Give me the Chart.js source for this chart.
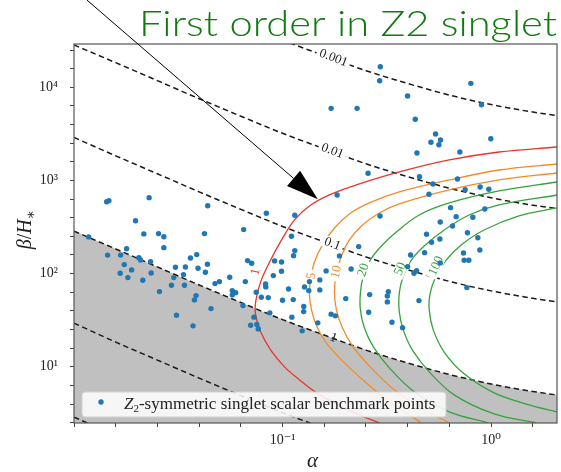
<!DOCTYPE html>
<html>
<head>
<meta charset="utf-8">
<script src="https://cdn.jsdelivr.net/npm/chart.js@4.4.0/dist/chart.umd.min.js"></script>
<style>
  html, body { margin: 0; padding: 0; background: #fff; }
</style>
</head>
<body>
<canvas id="gwChart" width="561" height="472"></canvas>
<script>
// benchmark points (alpha, beta/H*)
const pointAlpha = [
  0.01434, 0.0147, 0.02292, 0.04377, 0.01973, 0.02162, 0.02543, 0.02696, 0.04221, 0.02696,
  0.01176, 0.01787, 0.01449, 0.01673, 0.02046, 0.02085, 0.02328, 0.01741, 0.01889, 0.01665,
  0.01813, 0.02344, 0.02138, 0.03066, 0.03422, 0.03348, 0.03009, 0.03617, 0.03877, 0.03933,
  0.04363, 0.04267, 0.02934, 0.03386, 0.0257, 0.04744, 0.0498, 0.03848, 0.0378, 0.04539,
  0.031, 0.03722,
  0.257, 0.1827, 0.0836, 0.1145, 0.2934, 0.0651, 0.1104, 0.2318, 0.1145, 0.1129,
  0.1874, 0.068, 0.0711, 0.0916, 0.0989, 0.2132, 0.1618, 0.0989, 0.0903, 0.0558,
  0.0663, 0.0829, 0.0831, 0.1346, 0.1274, 0.1509, 0.1068, 0.1509, 0.1336, 0.0574,
  0.0596, 0.0574, 0.0748, 0.0791, 0.0854, 0.1, 0.1125, 0.2009, 0.2617, 0.3215,
  0.318, 0.318, 0.0646, 0.1264, 0.1262, 0.0869, 0.2588, 0.1108, 0.171, 0.1793,
  0.0729, 0.1476, 0.3348, 0.0703, 0.0753, 0.0765, 0.1242, 0.3763,
  0.899, 0.4329, 0.5415, 0.5147, 0.572, 0.5621, 0.9968, 0.441, 0.7083, 0.4537,
  0.69, 0.526, 0.5035, 0.7509, 0.886, 0.975, 0.6389, 0.9331, 0.68, 0.8174,
  0.5702, 0.653, 0.4903, 0.7702, 0.8638, 0.5182, 0.5682, 0.8829, 0.4111, 0.4798,
  0.7371, 0.7427, 0.7821, 0.5702, 0.3977, 0.4391, 0.4267, 0.7651, 0.4508,
  0.2943, 0.2921, 0.171, 0.2277, 0.7996, 0.3977
];
const pointBeta = [
  592, 607, 654, 536, 370, 267, 269, 249, 269, 190,
  248, 185, 158, 158, 148.5, 140, 134.5, 125, 109.6, 101,
  90.6, 101.7, 85, 117, 118, 97.6, 90.6, 147, 160, 114,
  126, 103.5, 75.1, 75.1, 64.1, 78.1, 82.1, 58.1, 52.2, 42.1,
  35.8, 27.5,
  1195, 699, 445, 423, 416, 297, 252, 195, 176.6, 156,
  155, 138, 129, 137, 133.5, 112.3, 107, 106.1, 95.2, 91.5,
  82.1, 77.5, 72, 82.1, 72, 85.6, 68.5, 66.9, 65.7, 65.7,
  62.5, 59.1, 63.1, 55.8, 55.3, 51.8, 52.6, 53.9, 59.5, 64.1,
  57.6, 49.7, 45.4, 44.3, 39.1, 37.9, 38.5, 34.1, 36.7, 35.2,
  34.1, 29.6, 30.1, 27.9, 28.4, 25.5, 24.3, 26.3,
  6508, 4536, 3155, 2570, 2720, 2422, 2809, 1973, 2022, 1098,
  1038, 917, 711, 797, 852, 805, 511, 494, 409, 403,
  358.6, 325, 265, 275, 243, 217, 235.7, 179.6, 158.7, 168,
  166.8, 139.3, 139.3, 130.3, 118.9, 107.7, 101, 70.8, 51.3,
  16634, 11773, 5953, 5953, 11040, 8066
];

// dashed contours (black), read along a shared alpha grid
const contourAlpha = [0.01, 0.01585, 0.02512, 0.03981, 0.0631, 0.1, 0.1585, 0.2512, 0.3981, 0.631, 1.0, 1.585, 2.07];
const contour0001 = [284000, 184000, 118000, 75500, 49000, 32100, 21900, 15100, 11000, 8260, 6530, 5430, 4980];
const contour001 = [28460, 18400, 11800, 7550, 4900, 3210, 2190, 1510, 1100, 826, 653, 543, 498];
const contour01 = [2897, 1840, 1180, 755, 490, 321, 219, 151, 110, 82.6, 65.3, 54.3, 49.8];
const contour1 = [286, 184, 118, 75.5, 49.0, 32.1, 21.9, 15.1, 11.0, 8.26, 6.53, 5.43, 4.98];
const contour10 = [29.4, 18.4, 11.8, 7.55, 4.9, 3.21, 2.19, 1.51, 1.1, 0.826, 0.653, 0.543, 0.498];
const contour100 = [2.88, 1.84, 1.18, 0.755, 0.49, 0.321, 0.219, 0.151, 0.11, 0.0826, 0.0653, 0.0543, 0.0498];

// coloured contours, levels 1, 5, 10, 20, 50, 100
const snr1Alpha = [2.07, 1.092, 0.63, 0.3629, 0.2336, 0.1679, 0.1346, 0.1141, 0.0989, 0.0867, 0.0785, 0.0743, 0.0743, 0.0785, 0.0876, 0.1022, 0.1206, 0.1455, 0.2092, 0.2911];
const snr1Beta = [2288, 2022, 1660, 1234, 917, 699, 532.5, 376.9, 229.9, 133.5, 81.5, 49.7, 36.1, 23.7, 15.2, 9.97, 7.23, 5.25, 3.36, 2.5];
const snr5Alpha = [2.07, 1.092, 0.63, 0.3629, 0.2608, 0.2092, 0.1773, 0.1554, 0.1422, 0.1361, 0.1346, 0.1377, 0.1455, 0.1606, 0.1874, 0.2336, 0.3076, 0.4624];
const snr5Beta = [1503, 1296, 1013, 753, 574, 437, 309.3, 203.2, 133.5, 85.6, 59.1, 40.8, 27.5, 18.5, 12.46, 7.79, 4.64, 2.5];
const snr10Alpha = [2.07, 1.092, 0.63, 0.3629, 0.2911, 0.2388, 0.2092, 0.1916, 0.1813, 0.1773, 0.1813, 0.1937, 0.2162, 0.2608, 0.3434, 0.478, 0.63];
const snr10Beta = [1204, 1013, 791, 559.6, 448, 325, 229.9, 155, 101.7, 63.6, 40.8, 26.2, 16.8, 10.2, 5.65, 3.45, 2.5];
const snr20Alpha = [2.07, 1.092, 0.63, 0.4522, 0.3511, 0.2977, 0.2636, 0.2441, 0.2362, 0.2362, 0.2467, 0.2725, 0.3251, 0.4281, 0.63, 0.967];
const snr20Beta = [963.6, 771.6, 574, 426, 280, 198, 140, 94.5, 62.1, 40.8, 26.2, 16.35, 9.73, 5.38, 3.28, 2.5];
const snr50Alpha = [2.07, 1.092, 0.785, 0.5957, 0.478, 0.4142, 0.3792, 0.3629, 0.3629, 0.3792, 0.4188, 0.505, 0.665, 1.034, 1.642];
const snr50Beta = [699, 546, 426, 294, 198, 140, 94.5, 62.1, 38.8, 24.9, 15.2, 8.82, 4.99, 3.12, 2.5];
const snr100Alpha = [2.07, 1.361, 0.926, 0.7187, 0.609, 0.5454, 0.5106, 0.505, 0.5279, 0.5957, 0.7427, 1.034, 1.52, 2.07];
const snr100Beta = [507, 416, 294, 203.2, 140, 94.5, 62.1, 40.8, 24.9, 14.4, 8.39, 5.25, 3.9, 3.28];

// axis ticks: every 0.2 decade, labels on whole decades
const xTickValues = [0.01, 0.01585, 0.02512, 0.03981, 0.0631, 0.1, 0.1585, 0.2512, 0.3981, 0.631, 1, 1.585];
const xTickLabelAt = [0.1, 1];
const xTickLabels = ['10\u207B\u00B9', '10\u2070'];
const yTickValues = [2.512, 3.981, 6.31, 10, 15.85, 25.12, 39.81, 63.1, 100, 158.5, 251.2, 398.1, 631,
  1000, 1585, 2512, 3981, 6310, 10000, 15850, 25120];
const yTickLabelAt = [10, 100, 1000, 10000];
const yTickLabels = ['10\u00B9', '10\u00B2', '10\u00B3', '10\u2074'];

const RED = '#e8352b';
const ORANGE = '#f28c28';
const GREEN = '#34a33a';
const BLUE = '#1f77b4';
const SERIF = '"Liberation Serif", "DejaVu Serif", serif';

// contour labels, placed in data coordinates
const contourLabels = [
  { text: '0.001', a: 0.1754, b: 20630, angle: 21, color: '#222', knock: true },
  { text: '0.01', a: 0.1734, b: 2072, angle: 21, color: '#222', knock: true },
  { text: '0.1', a: 0.1734, b: 208.3, angle: 21, color: '#222', knock: true },
  { text: '1', a: 0.1754, b: 20.4, angle: 21, color: '#222', knock: false },
  { text: '1', a: 0.0743, b: 104.3, angle: -78, color: RED, knock: true },
  { text: '5', a: 0.1377, b: 94.5, angle: -80, color: ORANGE, knock: true },
  { text: '10', a: 0.1813, b: 104.3, angle: -78, color: ORANGE, knock: true },
  { text: '20', a: 0.2441, b: 109.6, angle: -72, color: GREEN, knock: true },
  { text: '50', a: 0.3669, b: 112.3, angle: -68, color: GREEN, knock: true },
  { text: '100', a: 0.5454, b: 120.9, angle: -66, color: GREEN, knock: true }
];

// annotation arrow, in data coordinates
const arrowFrom = [0.01154, 86460];
const arrowTo = [0.1476, 628.5];

function zip(xs, ys) {
  return xs.map((x, i) => ({ x: x, y: ys[i] }));
}

function tickLabel(value, at, labels) {
  for (let i = 0; i < at.length; i++) {
    if (Math.abs(Math.log10(value) - Math.log10(at[i])) < 1e-3) return labels[i];
  }
  return '';
}

function dashed(data, extra) {
  return Object.assign({
    data: data,
    showLine: true,
    borderColor: '#1a1a1a',
    borderWidth: 1.5,
    borderDash: [5.5, 3.5],
    pointRadius: 0,
    cubicInterpolationMode: 'monotone',
    fill: false,
    order: 2
  }, extra || {});
}

function solid(data, color) {
  return {
    data: data,
    showLine: true,
    borderColor: color,
    borderWidth: 1.3,
    pointRadius: 0,
    tension: 0.35,
    fill: false,
    order: 1
  };
}

const decorPlugin = {
  id: 'decor',
  beforeDatasetDraw(chart, args) {
    // labels go under the benchmark points
    if (args.index !== chart.data.datasets.length - 1) return;
    const ctx = chart.ctx;
    const area = chart.chartArea;
    const xs = chart.scales.x, ys = chart.scales.y;
    ctx.save();
    ctx.beginPath();
    ctx.rect(area.left, area.top, area.right - area.left, area.bottom - area.top);
    ctx.clip();
    contourLabels.forEach(l => {
      const px = xs.getPixelForValue(l.a);
      const py = ys.getPixelForValue(l.b);
      ctx.save();
      ctx.translate(px, py);
      ctx.rotate(l.angle * Math.PI / 180);
      ctx.font = '13px ' + SERIF;
      const w = ctx.measureText(l.text).width;
      if (l.knock) {
        ctx.fillStyle = '#fff';
        ctx.fillRect(-w / 2 - 3, -6, w + 6, 12);
      }
      ctx.fillStyle = l.color;
      ctx.textAlign = 'center';
      ctx.textBaseline = 'middle';
      ctx.fillText(l.text, 0, 0);
      ctx.restore();
    });
    ctx.restore();
  },
  afterDraw(chart) {
    const ctx = chart.ctx;
    const area = chart.chartArea;
    const xs = chart.scales.x, ys = chart.scales.y;

    // frame
    ctx.save();
    ctx.strokeStyle = '#555';
    ctx.lineWidth = 1.2;
    ctx.strokeRect(area.left, area.top, area.right - area.left, area.bottom - area.top);

    // legend box
    const lx = area.left + 8, ly = area.bottom - 31;
    ctx.fillStyle = 'rgba(255,255,255,0.85)';
    ctx.strokeStyle = '#d0d0d0';
    ctx.lineWidth = 1;
    ctx.beginPath();
    ctx.roundRect(lx, ly, 364, 25, 3);
    ctx.fill();
    ctx.stroke();
    ctx.fillStyle = BLUE;
    ctx.beginPath();
    ctx.arc(lx + 19, ly + 10, 2.7, 0, Math.PI * 2);
    ctx.fill();
    ctx.fillStyle = '#222';
    ctx.textBaseline = 'alphabetic';
    ctx.textAlign = 'left';
    let tx = lx + 42;
    const base = ly + 17;
    ctx.font = 'italic 17px ' + SERIF;
    ctx.fillText('Z', tx, base);
    tx += ctx.measureText('Z').width;
    ctx.font = '11px ' + SERIF;
    ctx.fillText('2', tx, base + 3);
    tx += ctx.measureText('2').width;
    ctx.font = '17px ' + SERIF;
    ctx.fillText('-symmetric singlet scalar benchmark points', tx, base);

    // x axis title
    ctx.fillStyle = '#222';
    ctx.font = 'italic 21px ' + SERIF;
    ctx.textAlign = 'center';
    ctx.fillText('\u03B1', (area.left + area.right) / 2 - 3, 467);

    // y axis title: beta / H_*
    ctx.save();
    ctx.translate(31, (area.top + area.bottom) / 2 - 4);
    ctx.rotate(-Math.PI / 2);
    const parts = [
      { t: '\u03B2', f: 'italic 20px ' + SERIF, dy: 0 },
      { t: '/', f: '20px ' + SERIF, dy: 0 },
      { t: 'H', f: 'italic 20px ' + SERIF, dy: 0 },
      { t: '\u2217', f: '14px ' + SERIF, dy: 4 }
    ];
    let total = 0;
    parts.forEach(p => { ctx.font = p.f; p.w = ctx.measureText(p.t).width; total += p.w; });
    let px = -total / 2;
    ctx.textAlign = 'left';
    parts.forEach(p => { ctx.font = p.f; ctx.fillText(p.t, px, p.dy); px += p.w; });
    ctx.restore();

    // title
    ctx.fillStyle = '#107a10';
    ctx.font = '300 35px Lato, "Open Sans", sans-serif';
    ctx.textAlign = 'left';
    const title = 'First order in Z2 singlet';
    const tw = ctx.measureText(title).width;
    ctx.save();
    ctx.translate(139, 36);
    ctx.scale(418 / tw, 1);
    ctx.fillText(title, 0, 0);
    ctx.restore();

    // arrow
    const x0 = xs.getPixelForValue(arrowFrom[0]), y0 = ys.getPixelForValue(arrowFrom[1]);
    const x1 = xs.getPixelForValue(arrowTo[0]), y1 = ys.getPixelForValue(arrowTo[1]);
    const ang = Math.atan2(y1 - y0, x1 - x0);
    const headLen = 32, headHalf = 10;
    const bx = x1 - headLen * Math.cos(ang), by = y1 - headLen * Math.sin(ang);
    ctx.strokeStyle = '#000';
    ctx.lineWidth = 1;
    ctx.beginPath();
    ctx.moveTo(x0, y0);
    ctx.lineTo(bx, by);
    ctx.stroke();
    ctx.fillStyle = '#000';
    ctx.beginPath();
    ctx.moveTo(x1, y1);
    ctx.lineTo(bx + headHalf * Math.sin(ang), by - headHalf * Math.cos(ang));
    ctx.lineTo(bx - headHalf * Math.sin(ang), by + headHalf * Math.cos(ang));
    ctx.closePath();
    ctx.fill();
    ctx.restore();
  }
};

const ctx = document.getElementById('gwChart').getContext('2d');
new Chart(ctx, {
  type: 'scatter',
  data: {
    datasets: [
      dashed(zip(contourAlpha, contour1), { fill: 'start', backgroundColor: '#c0c0c0' }),
      dashed(zip(contourAlpha, contour0001)),
      dashed(zip(contourAlpha, contour001)),
      dashed(zip(contourAlpha, contour01)),
      dashed(zip(contourAlpha, contour10)),
      dashed(zip(contourAlpha, contour100)),
      solid(zip(snr1Alpha, snr1Beta), RED),
      solid(zip(snr5Alpha, snr5Beta), ORANGE),
      solid(zip(snr10Alpha, snr10Beta), ORANGE),
      solid(zip(snr20Alpha, snr20Beta), GREEN),
      solid(zip(snr50Alpha, snr50Beta), GREEN),
      solid(zip(snr100Alpha, snr100Beta), GREEN),
      {
        label: 'Z2-symmetric singlet scalar benchmark points',
        data: zip(pointAlpha, pointBeta),
        backgroundColor: BLUE,
        borderWidth: 0,
        pointRadius: 2.7,
        order: 0
      }
    ]
  },
  options: {
    responsive: false,
    devicePixelRatio: 1,
    animation: false,
    layout: { padding: { top: 44, right: 3, left: 0, bottom: 0 } },
    plugins: {
      legend: { display: false },
      tooltip: { enabled: false },
      filler: { drawTime: 'beforeDatasetsDraw' }
    },
    scales: {
      x: {
        type: 'logarithmic',
        min: 0.01,
        max: 2.07,
        afterBuildTicks: s => { s.ticks = xTickValues.map(v => ({ value: v })); },
        afterFit: s => { s.height = 49; },
        ticks: {
          autoSkip: false,
          maxRotation: 0,
          padding: 5,
          color: '#222',
          font: { family: SERIF, size: 14 },
          callback: v => tickLabel(v, xTickLabelAt, xTickLabels)
        },
        grid: { drawOnChartArea: false, tickLength: 4, color: '#444' },
        border: { display: false }
      },
      y: {
        type: 'logarithmic',
        min: 2.49,
        max: 29200,
        afterBuildTicks: s => { s.ticks = yTickValues.map(v => ({ value: v })); },
        afterFit: s => { s.width = 74; },
        ticks: {
          autoSkip: false,
          padding: 12,
          color: '#222',
          font: { family: SERIF, size: 14 },
          callback: v => tickLabel(v, yTickLabelAt, yTickLabels)
        },
        grid: { drawOnChartArea: false, tickLength: 4, color: '#444' },
        border: { display: false }
      }
    }
  },
  plugins: [decorPlugin]
});
</script>
</body>
</html>
